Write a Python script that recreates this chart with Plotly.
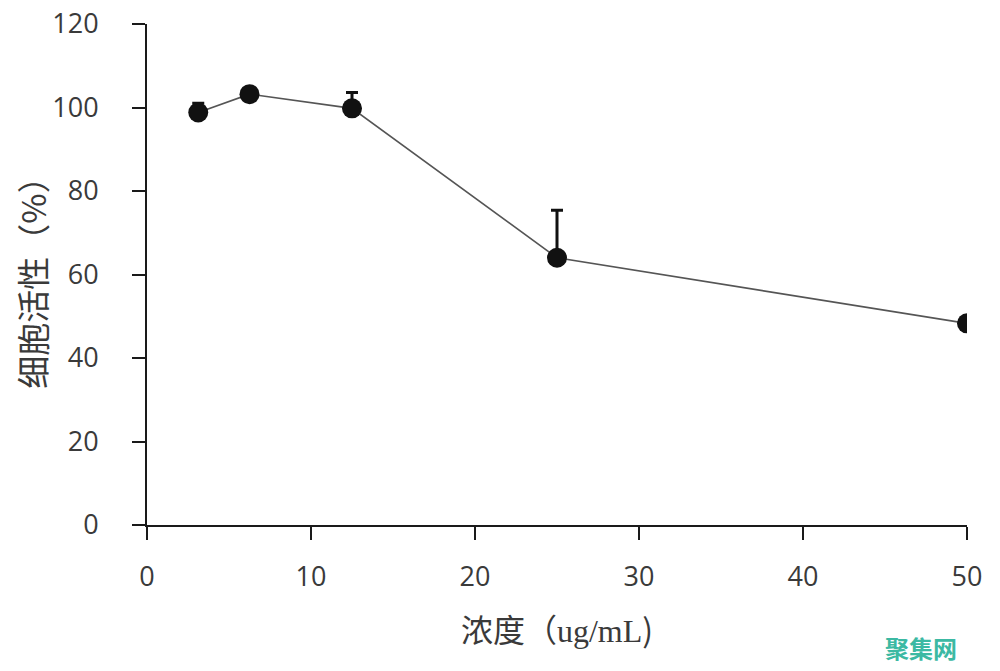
import plotly.graph_objects as go

# data
conc = [3.125, 6.25, 12.5, 25, 50]
viability = [98.8, 103.2, 99.8, 64.0, 48.3]
err_up = [2.2, 0.8, 3.8, 11.4, 0.6]

x_ticks = [0, 10, 20, 30, 40, 50]
y_ticks = [0, 20, 40, 60, 80, 100, 120]

FONT = dict(family="Open Sans, Liberation Sans, Noto Sans CJK SC", size=27, color="#3a3a3a")
AXIS_COLOR = "#1a1a1a"
TITLE_FONT = "Noto Sans CJK SC"

fig = go.Figure()

fig.add_trace(go.Scatter(
    x=conc,
    y=viability,
    mode="lines+markers",
    line=dict(color="#555555", width=1.6),
    marker=dict(size=20, color="#111111"),
    error_y=dict(
        type="data",
        symmetric=False,
        array=err_up,
        arrayminus=[0] * len(err_up),
        color="#111111",
        thickness=3,
        width=6,
    ),
    showlegend=False,
))

# page body has an 8px margin, so the figure is sized to fit inside it
fig.update_layout(
    width=992,
    height=663,
    plot_bgcolor="white",
    paper_bgcolor="white",
    font=FONT,
    margin=dict(l=139, r=33, t=16, b=146),
    xaxis=dict(
        range=[0, 50],
        tickvals=x_ticks,
        showgrid=False,
        zeroline=False,
        showline=True,
        linecolor=AXIS_COLOR,
        linewidth=2,
        ticks="outside",
        ticklen=13,
        tickwidth=2,
        tickcolor=AXIS_COLOR,
        ticklabelstandoff=14,
        ticklabeloverflow="allow",
        automargin=False,
        title=dict(
            text="浓度（<span style='font-family:Liberation Serif'>ug/mL</span>)",
            standoff=26,
            font=dict(family=TITLE_FONT, size=32, color="#3a3a3a"),
        ),
    ),
    yaxis=dict(
        range=[0, 120],
        tickvals=y_ticks,
        showgrid=False,
        zeroline=False,
        showline=True,
        linecolor=AXIS_COLOR,
        linewidth=2,
        ticks="outside",
        ticklen=13,
        tickwidth=2,
        tickcolor=AXIS_COLOR,
        ticklabelstandoff=28,
        ticklabeloverflow="allow",
        automargin=False,
        title=dict(
            text="细胞活性（%）",
            standoff=12,
            font=dict(family=TITLE_FONT, size=33, color="#3a3a3a"),
        ),
    ),
    annotations=[
        dict(
            text="<b>聚集网</b>",
            x=0.99, y=-0.245, xref="paper", yref="paper",
            xanchor="right", yanchor="middle",
            showarrow=False,
            font=dict(family=TITLE_FONT, size=24, color="#3cb9a3"),
        )
    ],
)

fig.write_html("out.html")
